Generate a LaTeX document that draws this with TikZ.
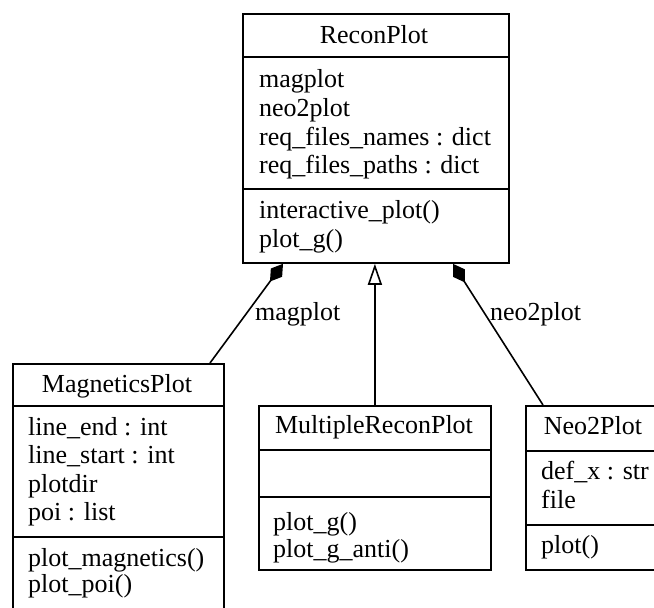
\documentclass[tikz,border=0pt]{standalone}
\usepackage{fontspec}
\setmainfont{Liberation Serif}
\usetikzlibrary{arrows.meta,calc}
\tikzset{
  classbox/.style={draw, line width=1.8pt, inner sep=0pt, anchor=north west},
  sepline/.style={line width=1.8pt},
  txt/.style={inner sep=0pt, anchor=base west, font=\fontsize{26}{29}\selectfont},
  ttl/.style={txt, anchor=base},
  conn/.style={line width=1.6pt},
  compo/.style={conn, {Diamond[length=22pt,width=14pt,fill=black]}-},
  inherit/.style={conn, {Triangle[open,length=21pt,width=14pt,fill=white]}-},
}
\begin{document}
\begin{tikzpicture}[x=1pt,y=-1pt]
\useasboundingbox (0,0) rectangle (654,608);
\clip (0,0) rectangle (654,608);
% boxes
\node[classbox, minimum width=266pt, minimum height=249pt] (recon) at (242,13) {};
\node[classbox, minimum width=211pt, minimum height=260pt] (mag) at (12,363) {};
\node[classbox, minimum width=232pt, minimum height=164pt] (multi) at (258,405) {};
\node[classbox, minimum width=140pt, minimum height=164pt] (neo) at (525,405) {};
% compartments
\draw[sepline] ($(recon.north west)+(0,44)$) -- ($(recon.north east)+(0,44)$);
\draw[sepline] ($(recon.north west)+(0,176)$) -- ($(recon.north east)+(0,176)$);
\draw[sepline] ($(mag.north west)+(0,43)$) -- ($(mag.north east)+(0,43)$);
\draw[sepline] ($(mag.north west)+(0,174)$) -- ($(mag.north east)+(0,174)$);
\draw[sepline] ($(multi.north west)+(0,45)$) -- ($(multi.north east)+(0,45)$);
\draw[sepline] ($(multi.north west)+(0,92)$) -- ($(multi.north east)+(0,92)$);
\draw[sepline] ($(neo.north west)+(0,46)$) -- ($(neo.north east)+(0,46)$);
\draw[sepline] ($(neo.north west)+(0,120)$) -- ($(neo.north east)+(0,120)$);
% ReconPlot texts
\node[ttl] (rt) at (374,43) {ReconPlot};
\node[txt] (ra1) at (259,87) {magplot};
\node[txt] (ra2) at (259,116) {neo2plot};
\node[txt] (ra3) at (259,145) {req\_files\_names : dict};
\node[txt] (ra4) at (259,173) {req\_files\_paths : dict};
\node[txt] (rm1) at (259,218) {interactive\_plot()};
\node[txt] (rm2) at (259,247) {plot\_g()};
% MagneticsPlot texts
\node[ttl] (mt) at (117,392) {MagneticsPlot};
\node[txt] (ma1) at (28,435) {line\_end : int};
\node[txt] (ma2) at (28,463) {line\_start : int};
\node[txt] (ma3) at (28,492) {plotdir};
\node[txt] (ma4) at (28,520) {poi : list};
\node[txt] (mm1) at (28,566) {plot\_magnetics()};
\node[txt] (mm2) at (28,592) {plot\_poi()};
% MultipleReconPlot texts
\node[ttl] (ut) at (374,433) {MultipleReconPlot};
\node[txt] (um1) at (273,530) {plot\_g()};
\node[txt] (um2) at (273,557) {plot\_g\_anti()};
% Neo2Plot texts
\node[ttl] (nt) at (593,434) {Neo2Plot};
\node[txt] (na1) at (541,479) {def\_x : str};
\node[txt] (na2) at (541,508) {file};
\node[txt] (nm1) at (541,553) {plot()};
% connectors
\draw[compo] ($(recon.south west)+(41,0)$) -- ($(mag.north west)+(198,0)$);
\draw[compo] ($(recon.south west)+(211,0)$) -- ($(neo.north west)+(18,0)$);
\draw[inherit] (multi.north |- recon.south) -- (multi.north);
% labels
\node[txt] (lmag) at (255,320) {magplot};
\node[txt] (lneo) at (490,320) {neo2plot};
\end{tikzpicture}
\end{document}
